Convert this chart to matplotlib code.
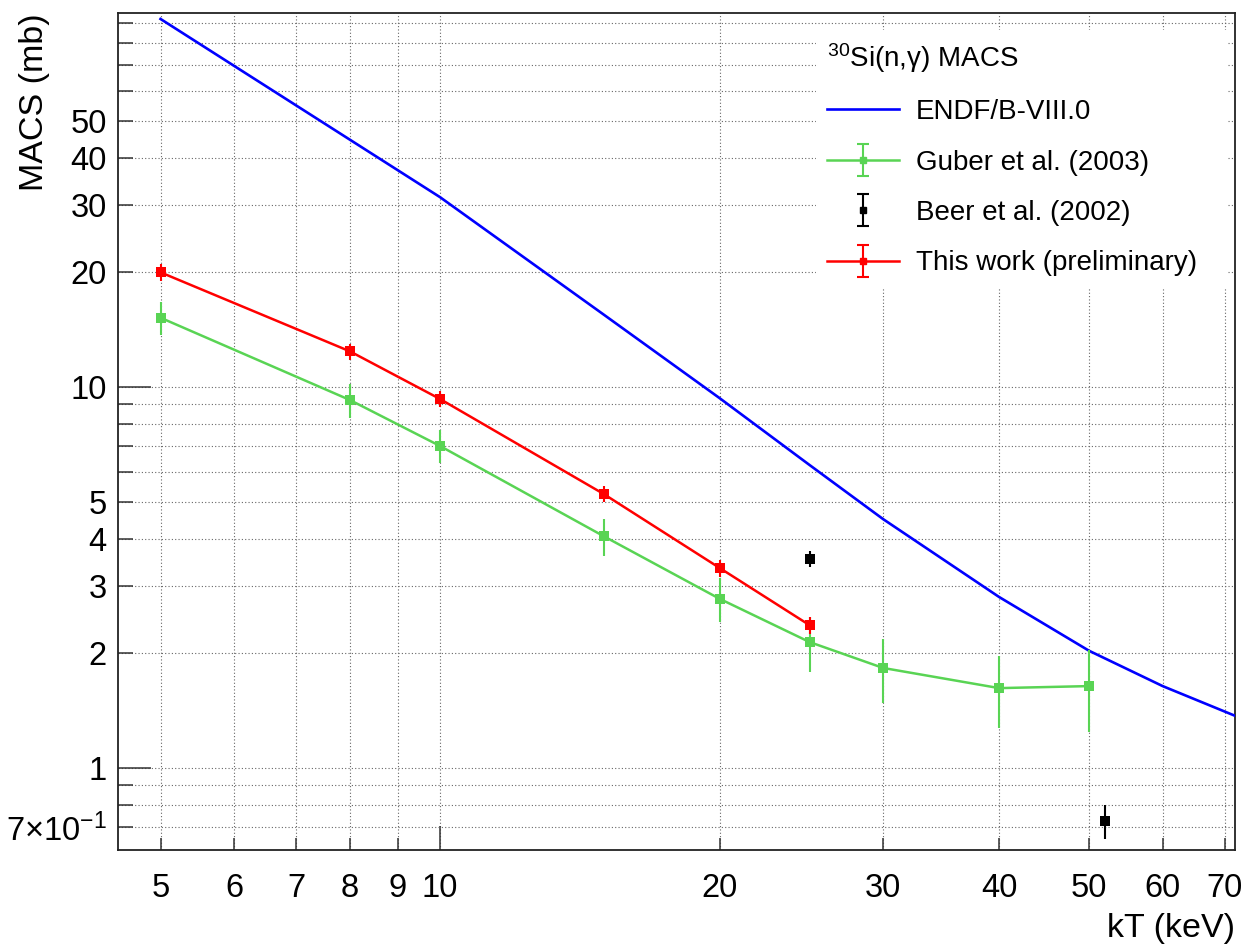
import numpy as np
import matplotlib
matplotlib.use("Agg")
import matplotlib.pyplot as plt
from matplotlib.ticker import FixedLocator, FixedFormatter
from matplotlib.container import ErrorbarContainer
from matplotlib.legend_handler import HandlerErrorbar

plt.rcParams["font.family"] = ["Liberation Sans", "DejaVu Sans"]
plt.rcParams["mathtext.fontset"] = "custom"
plt.rcParams["mathtext.rm"] = "Liberation Sans"
plt.rcParams["mathtext.it"] = "Liberation Sans:italic"
plt.rcParams["mathtext.bf"] = "Liberation Sans:bold"

# ENDF/B-VIII.0 evaluation (line)
endf_kt = [5, 10, 15, 20, 25, 30, 40, 50, 60, 80]
endf_macs = [92.5, 31.5, 15.5, 9.35, 6.24, 4.5, 2.81, 2.03, 1.64, 1.23]

# Guber et al. (2003)
guber_kt = [5, 8, 10, 15, 20, 25, 30, 40, 50]
guber_macs = [15.2, 9.24, 7.0, 4.06, 2.78, 2.14, 1.83, 1.62, 1.64]
guber_err = [1.5, 0.95, 0.7, 0.45, 0.37, 0.35, 0.35, 0.35, 0.4]

# Beer et al. (2002)
beer_kt = [25, 52]
beer_macs = [3.54, 0.726]
beer_err = [0.17, 0.075]

# This work (preliminary)
this_kt = [5, 8, 10, 15, 20, 25]
this_macs = [20.0, 12.4, 9.3, 5.24, 3.35, 2.37]
this_err = [1.0, 0.6, 0.45, 0.26, 0.17, 0.12]

# axis ticks (ROOT style: 10 / 1,10 are the long ones)
x_major = [10]
x_minor = [5, 6, 7, 8, 9, 20, 30, 40, 50, 60, 70]
x_minor_labels = ["5", "6", "7", "8", "9", "20", "30", "40", "50", "60", "70"]
y_major = [1, 10]
y_major_labels = ["1", "10"]
y_minor = [0.7, 0.8, 0.9, 2, 3, 4, 5, 6, 7, 8, 9, 20, 30, 40, 50, 60, 70, 80, 90]
y_minor_labels = [r"$7{\times}10^{-1}$", "", "", "2", "3", "4", "5", "", "", "", "",
                  "20", "30", "40", "50", "", "", "", ""]

BLUE = "#0000ff"
GREEN = "#59d454"
RED = "#ff0000"

fig = plt.figure(figsize=(12.45, 9.48), dpi=100)
ax = fig.add_axes([0.0948, 0.1034, 0.8972, 0.8829])
ax.set_xscale("log")
ax.set_yscale("log")
ax.set_xlim(4.5, 71.8)
ax.set_ylim(0.609, 95.9)

ax.plot(endf_kt, endf_macs, color=BLUE, lw=1.9, zorder=3)

err_style = dict(fmt="s-", ms=7.2, mew=0, lw=1.8, elinewidth=1.5, capsize=0, zorder=4)
ax.errorbar(guber_kt, guber_macs, yerr=guber_err, color=GREEN, **err_style)
ax.errorbar(this_kt, this_macs, yerr=this_err, color=RED, **err_style)
ax.errorbar(beer_kt, beer_macs, yerr=beer_err, fmt="s", color="black", ms=7.2, mew=0,
            elinewidth=1.5, capsize=0, zorder=4)

# legend proxies (ROOT draws caps in the legend only)
nan = [np.nan]
leg_style = dict(ms=5, lw=1.8, elinewidth=1.5, capsize=4.3, capthick=1.5)
h_endf, = ax.plot(nan, nan, color=BLUE, lw=1.9, label="ENDF/B-VIII.0")
h_guber = ax.errorbar(nan, nan, yerr=[nan], fmt="s-", color=GREEN, label="Guber et al. (2003)", **leg_style)
h_beer = ax.errorbar(nan, nan, yerr=[nan], fmt="s", color="black", label="Beer et al. (2002)", **leg_style)
h_this = ax.errorbar(nan, nan, yerr=[nan], fmt="s-", color=RED, label="This work (preliminary)", **leg_style)

leg = ax.legend(handles=[h_endf, h_guber, h_beer, h_this],
                title=r"$^{30}$Si(n,γ) MACS", title_fontsize=20, fontsize=20,
                loc="upper left", bbox_to_anchor=(0.6249, 0.5, 0.368, 0.48), mode="expand",
                borderaxespad=0, frameon=True, fancybox=False, facecolor="white",
                edgecolor="none", framealpha=1, numpoints=1, handlelength=2.6,
                handletextpad=0.6, labelspacing=0.88, borderpad=0.4, alignment="left",
                handler_map={ErrorbarContainer: HandlerErrorbar(xerr_size=0.58, yerr_size=0.58)})
leg.set_zorder(6)

ax.xaxis.set_major_locator(FixedLocator(x_major))
ax.xaxis.set_major_formatter(FixedFormatter([str(v) for v in x_major]))
ax.xaxis.set_minor_locator(FixedLocator(x_minor))
ax.xaxis.set_minor_formatter(FixedFormatter(x_minor_labels))
ax.yaxis.set_major_locator(FixedLocator(y_major))
ax.yaxis.set_major_formatter(FixedFormatter(y_major_labels))
ax.yaxis.set_minor_locator(FixedLocator(y_minor))
ax.yaxis.set_minor_formatter(FixedFormatter(y_minor_labels))

ax.tick_params(which="both", direction="in", color="#333333", width=1.1,
               top=False, right=False, labelsize=23.5)
ax.tick_params(axis="x", which="major", length=17, pad=16.5)
ax.tick_params(axis="x", which="minor", length=8.6, pad=16.5)
ax.tick_params(axis="y", which="major", length=23.8, pad=8)
ax.tick_params(axis="y", which="minor", length=10.8, pad=8)

ax.grid(True, which="both", color="#666666", linestyle=(0, (1, 2)), linewidth=0.8)
ax.set_axisbelow(True)
for sp in ax.spines.values():
    sp.set_linewidth(1.3)
    sp.set_color("#222222")

ax.set_xlabel("kT (keV)", fontsize=24.5, loc="right")
ax.xaxis.set_label_coords(1.0, -0.0753)
ax.set_ylabel("MACS (mb)", fontsize=24.5, loc="top")
ax.yaxis.set_label_coords(-0.0609, 1.0)

fig.savefig("out.png", dpi=100)
